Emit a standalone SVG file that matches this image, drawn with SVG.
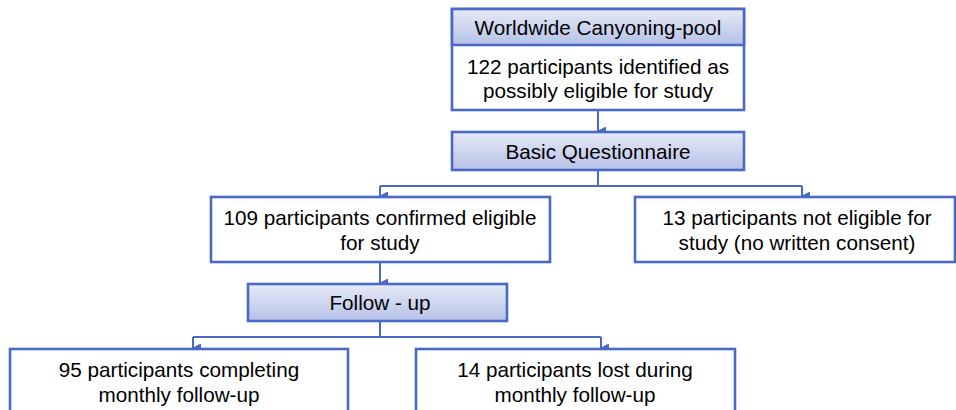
<svg xmlns="http://www.w3.org/2000/svg" width="956" height="410" viewBox="0 0 956 410">
<defs>
<linearGradient id="hdr" x1="0" y1="0" x2="0" y2="1">
<stop offset="0" stop-color="#e6eaf7"/>
<stop offset="1" stop-color="#b6c1e6"/>
</linearGradient>
<marker id="arr" markerWidth="9" markerHeight="9" refX="4.5" refY="8" orient="auto-start-reverse" markerUnits="userSpaceOnUse" viewBox="0 0 9 9">
<path d="M0,0 L9,0 L4.5,9 Z" fill="#4a68c6"/>
</marker>
</defs>
<style>
.box{fill:#ffffff;stroke:#4a68c6;stroke-width:2.6}
.hbox{fill:url(#hdr);stroke:#4a68c6;stroke-width:2.6}
.t{font-family:"Liberation Sans",Arial,sans-serif;font-size:20.7px;fill:#000;text-anchor:middle}
.c{fill:none;stroke:#4a68c6;stroke-width:2}
</style>
<rect width="956" height="410" fill="#ffffff"/>
<g id="connectors">
<path class="c" d="M598,110 V131" marker-end="url(#arr)"/>
<path class="c" d="M598,170 V186 M380,186 H802"/>
<path class="c" d="M380,186 V196" marker-end="url(#arr)"/>
<path class="c" d="M802,186 V196" marker-end="url(#arr)"/>
<path class="c" d="M380,262 V283" marker-end="url(#arr)"/>
<path class="c" d="M380,321 V337 M193,337 H601"/>
<path class="c" d="M193,337 V348" marker-end="url(#arr)"/>
<path class="c" d="M601,337 V348" marker-end="url(#arr)"/>
</g>
<g id="pool">
<rect class="box" x="452" y="9" width="292" height="101"/>
<rect class="hbox" x="452" y="9" width="292" height="36"/>
<text class="t" x="598" y="35">Worldwide Canyoning-pool</text>
<text class="t" x="598" y="74">122 participants identified as</text>
<text class="t" x="598" y="98">possibly eligible for study</text>
</g>
<g id="questionnaire">
<rect class="hbox" x="452" y="132" width="292" height="38"/>
<text class="t" x="598" y="159">Basic Questionnaire</text>
</g>
<g id="eligible">
<rect class="box" x="211" y="197" width="339" height="65"/>
<text class="t" x="380" y="225">109 participants confirmed eligible</text>
<text class="t" x="380" y="250">for study</text>
</g>
<g id="noteligible">
<rect class="box" x="635" y="197" width="320" height="65"/>
<text class="t" x="797" y="225">13 participants not eligible for</text>
<text class="t" x="797" y="250">study (no written consent)</text>
</g>
<g id="followup">
<rect class="hbox" x="248" y="284" width="259" height="37"/>
<text class="t" x="380" y="310">Follow - up</text>
</g>
<g id="completing">
<rect class="box" x="10" y="349" width="338" height="70"/>
<text class="t" x="179" y="377">95 participants completing</text>
<text class="t" x="179" y="402">monthly follow-up</text>
</g>
<g id="lost">
<rect class="box" x="416" y="349" width="319" height="70"/>
<text class="t" x="575" y="377">14 participants lost during</text>
<text class="t" x="575" y="402">monthly follow-up</text>
</g>
</svg>
